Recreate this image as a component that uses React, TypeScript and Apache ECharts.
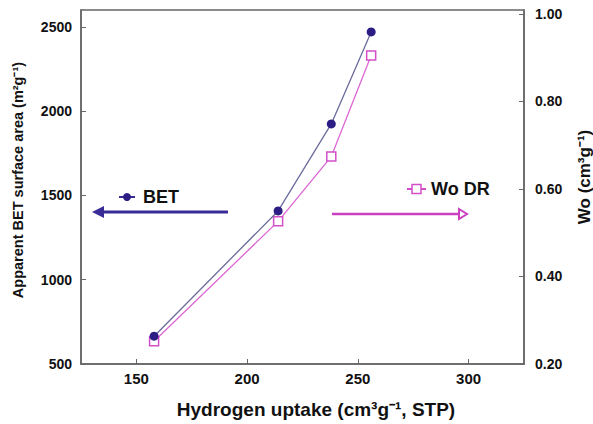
import React, { useEffect, useRef } from "react";
import * as echarts from "echarts";

const hydrogenUptake = [158, 214, 238, 256];
const betArea = [665, 1408, 1924, 2470];
const woDR = [0.252, 0.526, 0.674, 0.905];
const xTicks = [150, 200, 250, 300];
const leftTicks = [500, 1000, 1500, 2000, 2500];
const rightTicks = [0.2, 0.4, 0.6, 0.8, 1.0];

const FONT = "'Liberation Sans', Arial, sans-serif";
const AXIS_COLOR = "#666";

export default function App() {
  const ref = useRef<HTMLDivElement>(null);
  useEffect(() => {
    document.body.style.margin = "0";
    const chart = echarts.init(ref.current!, null, { renderer: "svg" });
    const labelStyle = { fontFamily: FONT, fontWeight: "bold", fontSize: 14, color: "#111" };
    chart.setOption({
      animation: false,
      backgroundColor: "#fff",
      grid: {
        left: 81, top: 10, right: 69, bottom: 60,
        show: true, borderColor: AXIS_COLOR, borderWidth: 1.5, backgroundColor: "transparent",
      },
      xAxis: {
        type: "value", min: 125, max: 325,
        splitLine: { show: false },
        axisLine: { lineStyle: { color: AXIS_COLOR, width: 1.5 } },
        axisTick: { inside: true, length: 5, customValues: xTicks, lineStyle: { color: AXIS_COLOR } },
        axisLabel: { ...labelStyle, fontSize: 15, margin: 7, customValues: xTicks, formatter: (v: number) => String(v) },
      },
      yAxis: [
        {
          type: "value", min: 500, max: 2600, position: "left",
          splitLine: { show: false },
          axisLine: { show: true, lineStyle: { color: AXIS_COLOR, width: 1.5 } },
          axisTick: { show: true, inside: true, length: 5, customValues: leftTicks, lineStyle: { color: AXIS_COLOR } },
          axisLabel: { ...labelStyle, margin: 9, customValues: leftTicks, formatter: (v: number) => String(v) },
        },
        {
          type: "value", min: 0.2, max: 1.009, position: "right",
          splitLine: { show: false },
          axisLine: { show: true, lineStyle: { color: AXIS_COLOR, width: 1.5 } },
          axisTick: { show: true, inside: true, length: 5, customValues: rightTicks, lineStyle: { color: AXIS_COLOR } },
          axisLabel: {
            ...labelStyle, margin: 11, customValues: rightTicks,
            formatter: (v: number) => v.toFixed(2),
          },
        },
      ],
      series: [
        {
          name: "BET", type: "line", yAxisIndex: 0,
          data: hydrogenUptake.map((x, i) => [x, betArea[i]]),
          symbol: "circle", symbolSize: 9,
          itemStyle: { color: "#2b1d84" },
          lineStyle: { color: "#6b6b9c", width: 1.3 },
          z: 3,
        },
        {
          name: "Wo DR", type: "line", yAxisIndex: 1,
          data: hydrogenUptake.map((x, i) => [x, woDR[i]]),
          symbol: "rect", symbolSize: 9,
          itemStyle: { color: "#fff", borderColor: "#d24fc9", borderWidth: 1.5 },
          lineStyle: { color: "#dd66d4", width: 1.3 },
          z: 2,
        },
      ],
      graphic: [
        // axis titles
        {
          type: "text", x: 18, y: 180, rotation: Math.PI / 2,
          style: {
            text: "Apparent BET surface area (m²g⁻¹)", font: `bold 14.5px ${FONT}`,
            fill: "#111", align: "center", verticalAlign: "middle",
          },
        },
        {
          type: "text", x: 584, y: 177, rotation: Math.PI / 2,
          style: {
            text: "Wo (cm³g⁻¹)", font: `bold 17px ${FONT}`,
            fill: "#111", align: "center", verticalAlign: "middle",
          },
        },
        {
          type: "text", x: 316, y: 409,
          style: {
            text: "Hydrogen uptake (cm³g⁻¹, STP)", font: `bold 19px ${FONT}`,
            fill: "#111", align: "center", verticalAlign: "middle",
          },
        },
        // BET annotation
        { type: "line", shape: { x1: 119, y1: 197, x2: 135, y2: 197 }, style: { stroke: "#3a2c96", lineWidth: 2 } },
        { type: "circle", shape: { cx: 127, cy: 197, r: 4 }, style: { fill: "#2b1d84" } },
        {
          type: "text", x: 143, y: 197,
          style: { text: "BET", font: `bold 18px ${FONT}`, fill: "#111", verticalAlign: "middle" },
        },
        { type: "line", shape: { x1: 228, y1: 212, x2: 100, y2: 212 }, style: { stroke: "#3a2c96", lineWidth: 3 } },
        { type: "polygon", shape: { points: [[92, 212], [104, 206], [104, 218]] }, style: { fill: "#3a2c96" } },
        // Wo DR annotation
        { type: "line", shape: { x1: 407, y1: 189, x2: 426, y2: 189 }, style: { stroke: "#d24fc9", lineWidth: 2 } },
        { type: "rect", shape: { x: 412, y: 184.5, width: 9, height: 9 }, style: { fill: "#fff", stroke: "#d24fc9", lineWidth: 1.5 } },
        {
          type: "text", x: 431, y: 189,
          style: { text: "Wo DR", font: `bold 18px ${FONT}`, fill: "#111", verticalAlign: "middle" },
        },
        { type: "line", shape: { x1: 332, y1: 214, x2: 460, y2: 214 }, style: { stroke: "#c93fc0", lineWidth: 2.5 } },
        {
          type: "polygon", shape: { points: [[459, 209], [467, 214], [459, 219]] },
          style: { fill: "#fff", stroke: "#c93fc0", lineWidth: 2 },
        },
      ],
    });
    return () => chart.dispose();
  }, []);
  return <div ref={ref} style={{ width: 593, height: 424 }} />;
}
